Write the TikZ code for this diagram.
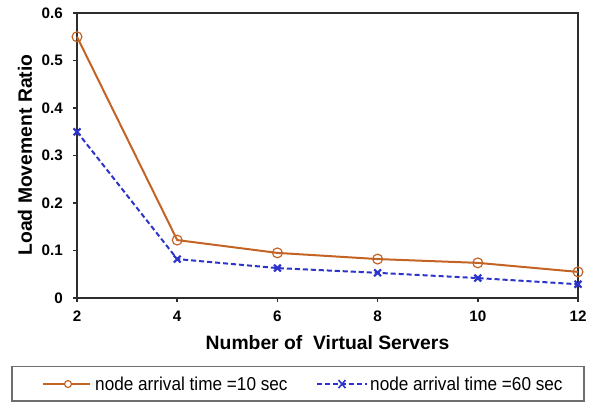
\documentclass[tikz,border=0pt]{standalone}
\usepackage{fontspec}
\setmainfont{Liberation Sans}
\usetikzlibrary{plotmarks}

\definecolor{serieA}{RGB}{196,100,36}
\definecolor{serieB}{RGB}{44,52,204}
\definecolor{eixo}{RGB}{45,45,45}
\definecolor{moldura}{RGB}{110,110,110}

\begin{document}
\begin{tikzpicture}[x=37.575pt, y=356.25pt,
    rotulo/.style={font=\bfseries\fontsize{11.4}{13}\selectfont, inner sep=0pt},
    titulo/.style={font=\bfseries\fontsize{14.5}{16}\selectfont, inner sep=0pt},
    legenda/.style={font=\fontsize{14}{16}\selectfont, inner sep=0pt, anchor=west, xscale=0.92},
    serie10/.style={serieA, line width=1.5pt},
    serie60/.style={serieB, line width=1.5pt, dash pattern=on 3.8pt off 2.2pt}]
    \useasboundingbox (0.4631,-0.2211) rectangle (12.2794,0.6274);

    % Eixos
    \draw[eixo, line width=1.2pt] (2,0) rectangle (12,0.6);
    \foreach \t [count=\i] in {0,0.1,0.2,0.3,0.4,0.5,0.6} {
        \draw[eixo, line width=1.2pt] (2,\t) -- ++(-3pt,0);
        \node[rotulo, anchor=east] (yt\i) at (1.7206,\t) {\t};
    }
    \foreach \x in {2,4,...,12} {
        \draw[eixo, line width=1.2pt] (\x,0) -- ++(0,-3pt);
        \node[rotulo] (xt\x) at (\x,-0.0379) {\x};
    }

    % Titulos dos eixos
    \node[titulo] (xtitulo) at (7,-0.0947) {Number of\ \ Virtual Servers};
    \node[titulo, rotate=90] (ytitulo) at (0.962,0.301) {Load Movement Ratio};

    % Curvas
    \draw[serie60, mark=x, mark size=3.6pt, mark options={solid, line width=1.6pt}]
        plot coordinates {(2,0.35) (4,0.082) (6,0.063) (8,0.053) (10,0.042) (12,0.029)};
    \draw[serie10, mark=o, mark size=3.7pt, mark options={solid, line width=0.9pt}]
        plot coordinates {(2,0.55) (4,0.122) (6,0.095) (8,0.082) (10,0.074) (12,0.055)};

    % Legenda
    \draw[moldura, line width=0.8pt] (0.7026,-0.1432) rectangle (12.1198,-0.2168);
    \draw[serie10] (1.3214,-0.1811) -- (2.2595,-0.1811);
    \draw[serieA, line width=0.9pt, fill=white] (1.8204,-0.1811) circle (2.6pt);
    \node[legenda] (leg10) at (2.3593,-0.1811) {node arrival time =10 sec};
    \draw[serie60] (6.7904,-0.1811) -- (7.7884,-0.1811);
    \draw[serieB, line width=1.2pt] (7.2894,-0.1811) ++(-2.6pt,-3pt) -- ++(5.2pt,6pt)
        ++(0,-6pt) -- ++(-5.2pt,6pt);
    \node[legenda] (leg60) at (7.8483,-0.1811) {node arrival time =60 sec};
\end{tikzpicture}
\end{document}
